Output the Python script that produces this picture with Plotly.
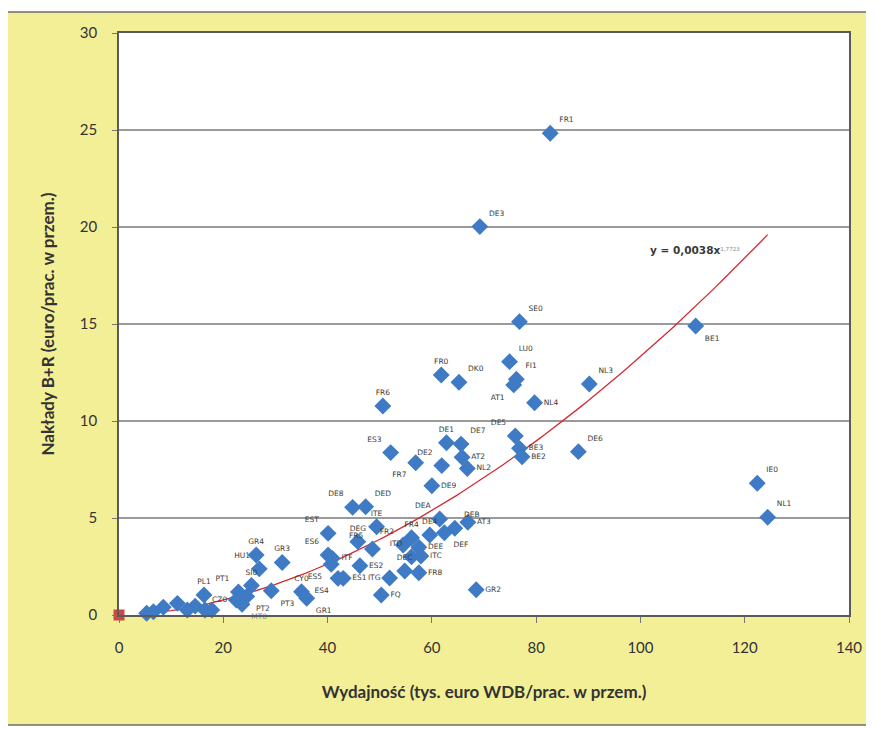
import plotly.graph_objects as go

# ---- data ----
labels = ["FR1", "DE3", "SE0", "BE1", "LU0", "FR0", "DK0", "FI1", "AT1", "NL3",
          "NL4", "FR6", "DE5", "DE1", "DE7", "ES3", "BE3", "BE2", "DE6", "AT2",
          "FR7", "DE2", "NL2", "DE9", "IE0", "DE8", "DED", "NL1", "DEA", "ITE",
          "AT3", "DEB", "DEF", "DE4", "EST", "FR4", "DEG", "FR2", "DEE", "FR5",
          "ES6", "ITD", "ITC", "ITF", "ES5", "ES2", "DEC", "FR8", "ES4", "ES1",
          "ITG", "FQ", "GR2", "GR4", "GR3", "HU1", "SI0", "PT1", "PT2", "CZ0",
          "MT0", "PT3", "CY0", "GR1", "PL1"]
x_vals = [82.7, 69.2, 76.8, 110.6, 74.9, 61.8, 65.2, 76.2, 75.7, 90.2,
          79.7, 50.6, 76.0, 62.8, 65.6, 52.1, 76.8, 77.3, 88.1, 65.8,
          56.9, 61.9, 66.8, 60.0, 122.4, 44.8, 47.3, 124.4, 61.5, 49.4,
          66.9, 64.4, 62.4, 59.6, 40.1, 56.1, 45.8, 54.5, 57.5, 48.6,
          40.1, 56.1, 57.9, 40.9, 40.7, 46.2, 54.8, 57.5, 42.0, 43.0,
          51.9, 50.3, 68.5, 26.3, 31.3, 26.9, 25.4, 22.9, 24.5, 22.5,
          23.6, 29.2, 35.0, 36.0, 16.3]
y_vals = [24.83, 20.02, 15.12, 14.90, 13.06, 12.37, 12.00, 12.15, 11.86, 11.91,
          10.94, 10.77, 9.23, 8.88, 8.81, 8.37, 8.59, 8.16, 8.42, 8.13,
          7.85, 7.70, 7.55, 6.66, 6.79, 5.55, 5.58, 5.04, 4.95, 4.55,
          4.78, 4.47, 4.24, 4.12, 4.21, 3.98, 3.78, 3.61, 3.49, 3.40,
          3.09, 3.00, 3.04, 2.92, 2.61, 2.54, 2.27, 2.18, 1.89, 1.89,
          1.91, 1.03, 1.30, 3.09, 2.71, 2.38, 1.52, 1.19, 0.96, 0.77,
          0.55, 1.25, 1.20, 0.86, 1.03]
label_pos = ["top right", "top right", "top right", "bottom right", "top right", "top center",
             "top right", "top right", "bottom left", "top right",
             "middle right", "top center", "top left", "top center", "top right", "top left",
             "middle right", "middle right", "top right", "middle right",
             "bottom left", "top left", "middle right", "middle right", "top right", "top left",
             "top right", "top right", "top left", "top center",
             "middle right", "top right", "bottom right", "top center", "top left", "top center",
             "top center", "top left", "middle right", "top left",
             "top left", "top left", "middle right", "middle right", "bottom left", "middle right",
             "top center", "middle right", "bottom left", "middle right",
             "middle left", "middle right", "middle right", "top center", "top center", "top left",
             "top center", "top left", "bottom right", "middle left",
             "bottom right", "bottom right", "top center", "bottom right", "top center"]

# small unlabelled points near the origin
small_x = [5.3, 6.6, 8.5, 11.2, 13.1, 14.6, 16.5, 17.8]
small_y = [0.09, 0.17, 0.40, 0.60, 0.26, 0.46, 0.26, 0.26]

origin_x = [0]
origin_y = [0]

# trendline y = A * x^B (as printed on the chart)
trend_A = 0.0038
trend_B = 1.7723
trend_x = [5 + i * (124.4 - 5) / 120 for i in range(121)]
trend_y = [trend_A * xx ** trend_B for xx in trend_x]

x_ticks = [0, 20, 40, 60, 80, 100, 120, 140]
y_ticks = [0, 5, 10, 15, 20, 25, 30]

# ---- figure ----
OFF = 8                      # page body margin
W, H = 874 - OFF, 729 - OFF
PL, PT, PR, PB = 119, 33, 849, 615   # plot area in page pixels
L, T = PL - OFF, PT - OFF
R = W - (PR - OFF)
B = H - (PB - OFF)
pw, ph = PR - PL, PB - PT

def px(xp):
    return (xp - PL) / pw

def py(yp):
    return (PB - yp) / ph

fig = go.Figure()

fig.add_trace(go.Scatter(
    x=trend_x, y=trend_y, mode="lines",
    line=dict(color="#d42a32", width=1.3),
    hoverinfo="skip", showlegend=False))

marker_style = dict(symbol="diamond", size=13, color="#3f7ac4")

fig.add_trace(go.Scatter(
    x=small_x, y=small_y, mode="markers",
    marker=marker_style, cliponaxis=False, showlegend=False))

label_colors = ["#8a8a8a" if l == "MT0" else "#3a3a3a" for l in labels]
fig.add_trace(go.Scatter(
    x=x_vals, y=y_vals, mode="markers+text",
    text=labels, textposition=label_pos,
    textfont=dict(family="DejaVu Sans", size=7.5, color=label_colors),
    marker=marker_style,
    cliponaxis=False, showlegend=False))

fig.add_trace(go.Scatter(
    x=origin_x, y=origin_y, mode="markers",
    marker=dict(symbol="square", size=11, color="#c84a46"),
    cliponaxis=False, showlegend=False))

fig.add_annotation(
    x=101.5, y=18.8, xref="x", yref="y", xanchor="left", yanchor="middle",
    text="<b>y = 0,0038x</b><span style='font-size:8px;color:#7f8c9c'><sup>1,7723</sup></span>",
    showarrow=False, font=dict(family="DejaVu Sans", size=10.5, color="#3a3a3a"))

# background frame (yellow) and white plotting area
fig.add_shape(type="rect", xref="paper", yref="paper", layer="below",
              x0=px(7), x1=px(868), y0=py(725), y1=py(12),
              fillcolor="#f3ef97", line=dict(color="#6e6e6e", width=1.5))
fig.add_shape(type="rect", xref="paper", yref="paper", layer="below",
              x0=0, x1=1, y0=0, y1=1, fillcolor="white", line=dict(width=0))

fig.update_layout(
    width=W, height=H,
    margin=dict(l=L, r=R, t=T, b=B, autoexpand=False),
    paper_bgcolor="white", plot_bgcolor="white",
    font=dict(family="Lato", color="#333333"),
    showlegend=False,
)
fig.update_xaxes(
    range=[0, 140], tickvals=x_ticks, ticks="outside", ticklen=6, tickcolor="#777777",
    ticklabelstandoff=12,
    showgrid=False, zeroline=False, showline=True, mirror=True,
    linecolor="#5a5a5a", linewidth=1.5,
    tickfont=dict(family="Lato", size=15, color="#333333"),
    title=dict(text="<b>Wydajność (tys. euro WDB/prac. w przem.)</b>",
               font=dict(family="Lato", size=17, color="#333333"), standoff=31),
    automargin=False)
fig.update_yaxes(
    range=[0, 30], tickvals=y_ticks, ticks="outside", ticklen=5, tickcolor="#777777",
    ticklabelstandoff=12,
    showgrid=True, gridcolor="#9a9a9a", gridwidth=1.5, zeroline=False,
    showline=True, mirror=True, linecolor="#5a5a5a", linewidth=1.5,
    tickfont=dict(family="Lato", size=15, color="#333333"),
    title=dict(text="<b>Nakłady B+R (euro/prac. w przem.)</b>",
               font=dict(family="Lato", size=17, color="#333333"), standoff=21),
    automargin=False)

fig.write_html("out.html")
